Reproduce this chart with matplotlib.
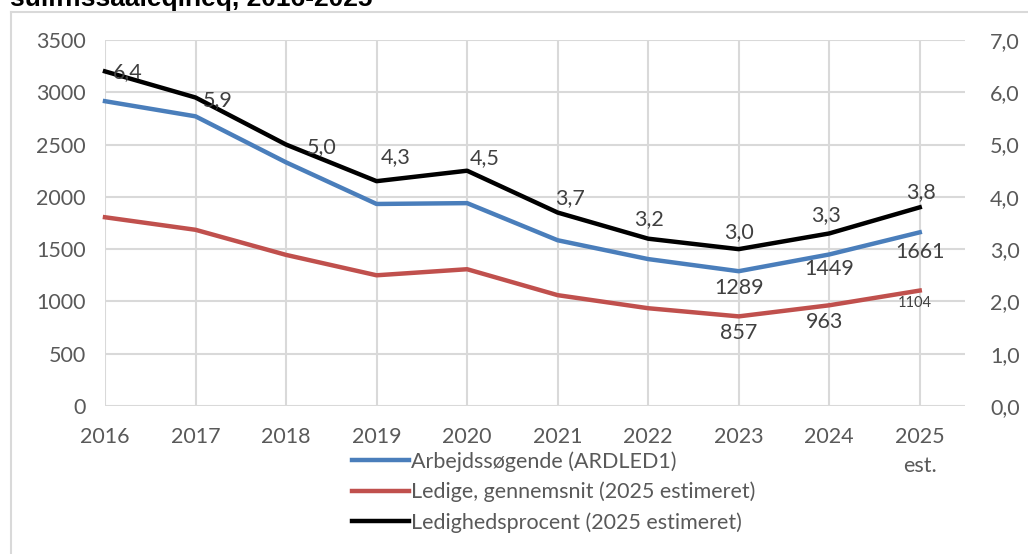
import matplotlib
matplotlib.use("Agg")
import matplotlib.pyplot as plt
from matplotlib.lines import Line2D

plt.rcParams['font.family'] = ['Lato', 'DejaVu Sans']

# data
years = [2016, 2017, 2018, 2019, 2020, 2021, 2022, 2023, 2024, 2025]
year_labels = ['2016', '2017', '2018', '2019', '2020', '2021', '2022', '2023', '2024', '2025\nest.']
arbejdssogende = [2915, 2770, 2330, 1932, 1940, 1585, 1405, 1289, 1449, 1661]
ledige = [1805, 1685, 1445, 1250, 1308, 1060, 935, 857, 963, 1104]
ledighedsprocent = [6.4, 5.9, 5.0, 4.3, 4.5, 3.7, 3.2, 3.0, 3.3, 3.8]

series_names = ['Arbejdssøgende (ARDLED1)',
                'Ledige, gennemsnit (2025 estimeret)',
                'Ledighedsprocent (2025 estimeret)']

BLUE = '#4a7ebb'
RED = '#c0504d'
GRID = '#d9d9d9'
TXT = '#595959'
LBL = '#404040'
FS = 15.5

W, H = 1028, 554
fig = plt.figure(figsize=(W / 100, H / 100), dpi=100)

# outer chart border (only top + left visible in the crop)
fig.add_artist(Line2D([11 / W, 11 / W], [0, 1 - 12 / H], color=GRID, lw=1.5))
fig.add_artist(Line2D([11 / W, 1.0], [1 - 12 / H, 1 - 12 / H], color=GRID, lw=1.5))

fig.text(10 / W, 1 - 6 / H, 'suliffissaaleqineq, 2016-2025', fontsize=19,
         fontweight='bold', family=['Liberation Sans', 'DejaVu Sans'],
         va='baseline', ha='left', color='black')

ax = fig.add_axes([105 / W, 1 - 406 / H, (965 - 105) / W, (406 - 40) / H])
ax2 = ax.twinx()

ax.set_xlim(2016, 2025.5)
ax.set_ylim(0, 3500)
ax2.set_ylim(0, 7)
ax.set_yticks(range(0, 3501, 500))
ax2.set_yticks([i * 1.0 for i in range(8)])
ax2.set_yticklabels([f'{v:.1f}'.replace('.', ',') for v in ax2.get_yticks()])
ax.set_xticks(years)
ax.set_xticklabels(year_labels, linespacing=1.6)

for a in (ax, ax2):
    for s in a.spines.values():
        s.set_visible(False)
ax.grid(True, color=GRID, lw=1.5)
ax.set_axisbelow(True)
ax.tick_params(axis='both', length=0, labelsize=FS, labelcolor=TXT)
ax.tick_params(axis='x', pad=15)
ax.tick_params(axis='y', pad=14)
ax2.tick_params(axis='y', length=0, labelsize=FS, labelcolor=TXT, pad=18)

l1, = ax.plot(years, arbejdssogende, color=BLUE, lw=3.2, solid_joinstyle='round', clip_on=False)
l2, = ax.plot(years, ledige, color=RED, lw=3.2, solid_joinstyle='round', clip_on=False)
l3, = ax2.plot(years, ledighedsprocent, color='black', lw=3.2, solid_joinstyle='round', clip_on=False)

# data labels (offsets in pixels, converted to points)
px = 0.72
pct_offsets = [(23, -1), (22, -3), (36, -3), (19, 24), (18, 13),
               (12, 14), (1, 20), (0, 17), (-3, 18), (1, 15)]
for x, v, (dx, dy) in zip(years, ledighedsprocent, pct_offsets):
    ax2.annotate(f'{v:.1f}'.replace('.', ','), (x, v), xytext=(dx * px, dy * px),
                 textcoords='offset points', ha='center', va='center',
                 fontsize=FS, color=LBL)

blue_offsets = [(0, -17), (0, -15), (0, -20)]
for x, v, (dx, dy) in zip(years[-3:], arbejdssogende[-3:], blue_offsets):
    ax.annotate(str(v), (x, v), xytext=(dx * px, dy * px), textcoords='offset points',
                ha='center', va='center', fontsize=FS, color=LBL)

red_offsets = [(0, -17), (-5, -17), (-5, -12)]
red_sizes = [FS, FS, 10.5]
for x, v, (dx, dy), fs in zip(years[-3:], ledige[-3:], red_offsets, red_sizes):
    ax.annotate(str(v), (x, v), xytext=(dx * px, dy * px), textcoords='offset points',
                ha='center', va='center', fontsize=fs, color=LBL)

fig.legend([l1, l2, l3], series_names, loc='upper left',
           bbox_to_anchor=(352 / W, 1 - 451 / H), frameon=False, fontsize=FS,
           labelcolor=TXT, handlelength=2.65, handletextpad=0.1,
           labelspacing=0.46, borderaxespad=0, borderpad=0)

fig.savefig('out.png', dpi=100)
